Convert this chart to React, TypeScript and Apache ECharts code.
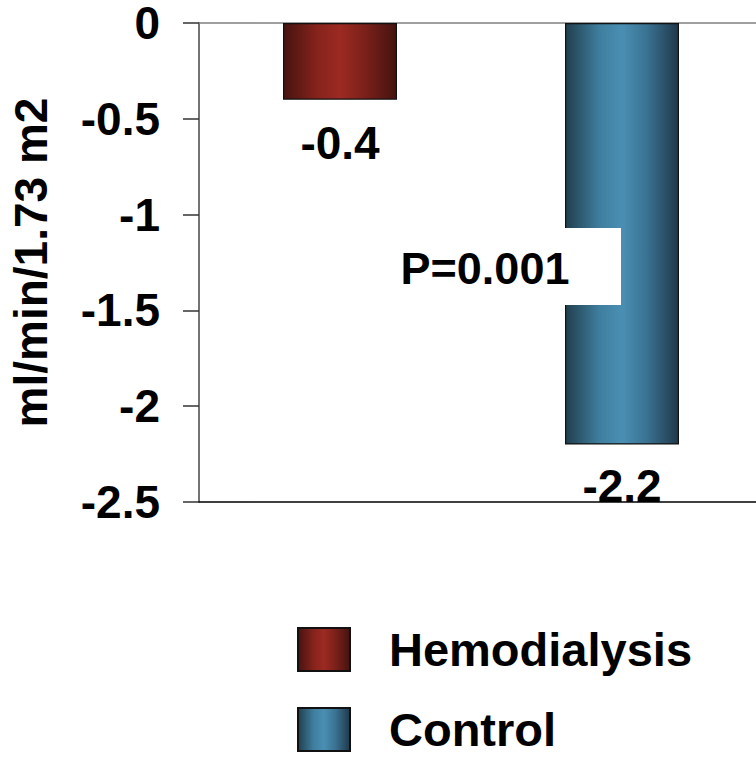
import React, { useEffect, useRef } from "react";
import * as echarts from "echarts";

// Change in eGFR (ml/min/1.73 m2) by group
const categories = ["Hemodialysis", "Control"];
const hemodialysisValues: (number | null)[] = [-0.4, null];
const controlValues: (number | null)[] = [null, -2.2];
const yMin = -2.5;
const yMax = 0;
const yInterval = 0.5;
const pValueText = "P=0.001";
const yAxisTitle = "ml/min/1.73 m2";

const FONT = "Liberation Sans";

const redGradient = new echarts.graphic.LinearGradient(0, 0, 1, 0, [
  { offset: 0, color: "#461310" },
  { offset: 0.3, color: "#86231c" },
  { offset: 0.5, color: "#9c2a22" },
  { offset: 0.72, color: "#7c201a" },
  { offset: 1, color: "#441310" },
]);

const blueGradient = new echarts.graphic.LinearGradient(0, 0, 1, 0, [
  { offset: 0, color: "#213f4e" },
  { offset: 0.3, color: "#3f7e9e" },
  { offset: 0.5, color: "#4a8fb3" },
  { offset: 0.72, color: "#3a7292" },
  { offset: 1, color: "#20384a" },
]);

export default function App() {
  const ref = useRef<HTMLDivElement>(null);

  useEffect(() => {
    if (!ref.current) return;
    const chart = echarts.init(ref.current, null, { renderer: "svg" });

    const labelStyle = {
      show: true,
      position: "bottom" as const,
      color: "#000",
      fontFamily: FONT,
      fontWeight: "bold" as const,
      fontSize: 46,
    };

    chart.setOption({
      animation: false,
      backgroundColor: "#fff",
      grid: {
        left: 199,
        top: 23,
        right: -7,
        bottom: 255,
        containLabel: false,
        outerBoundsMode: "none",
      },
      legend: {
        orient: "vertical",
        left: 297,
        top: 626,
        width: 440,
        height: 200,
        padding: 0,
        itemWidth: 52,
        itemHeight: 43,
        itemGap: 33,
        icon: "rect",
        data: ["Hemodialysis", "Control"],
        textStyle: {
          color: "#000",
          fontFamily: FONT,
          fontWeight: "bold",
          fontSize: 47,
          lineHeight: 43,
          padding: [0, 0, 0, 34],
        },
      },
      xAxis: [
        {
          type: "category",
          data: categories,
          position: "bottom",
          axisLine: { show: true, onZero: false, lineStyle: { color: "#000", width: 1.5 } },
          axisTick: { show: false },
          axisLabel: { show: false },
        },
        {
          type: "category",
          data: categories,
          position: "top",
          axisLine: { show: true, onZero: false, lineStyle: { color: "#808080", width: 1.5 } },
          axisTick: { show: false },
          axisLabel: { show: false },
        },
      ],
      yAxis: {
        type: "value",
        min: yMin,
        max: yMax,
        interval: yInterval,
        name: yAxisTitle,
        nameLocation: "middle",
        nameGap: 145,
        nameTextStyle: {
          color: "#000",
          fontFamily: FONT,
          fontWeight: "bold",
          fontSize: 46,
        },
        axisLine: { show: true, lineStyle: { color: "#444", width: 1.5 } },
        axisTick: { show: true, length: 16, lineStyle: { color: "#333", width: 1.5 } },
        splitLine: { show: false },
        axisLabel: {
          margin: 39,
          color: "#000",
          fontFamily: FONT,
          fontWeight: "bold",
          fontSize: 46,
          lineHeight: 40,
        },
      },
      series: [
        {
          name: "Hemodialysis",
          type: "bar",
          data: hemodialysisValues,
          barWidth: 114,
          barGap: "-100%",
          z: 2,
          itemStyle: { color: redGradient, borderColor: "#111", borderWidth: 1.2 },
          label: { ...labelStyle, distance: 20 },
        },
        {
          name: "Control",
          type: "bar",
          data: controlValues,
          barWidth: 114,
          barGap: "-100%",
          z: 2,
          itemStyle: { color: blueGradient, borderColor: "#111", borderWidth: 1.2 },
          label: { ...labelStyle, distance: 18 },
        },
      ],
      graphic: [
        {
          type: "rect",
          z: 100,
          shape: { x: 349, y: 228, width: 272, height: 77 },
          style: { fill: "#fff" },
        },
        {
          type: "text",
          z: 101,
          x: 485,
          y: 268,
          style: {
            text: pValueText,
            fill: "#000",
            font: `bold 45px "${FONT}"`,
            textAlign: "center",
            textVerticalAlign: "middle",
          },
        },
      ],
    });

    return () => chart.dispose();
  }, []);

  return (
    <div
      ref={ref}
      style={{ position: "absolute", left: 0, top: 0, width: 756, height: 757 }}
    />
  );
}
